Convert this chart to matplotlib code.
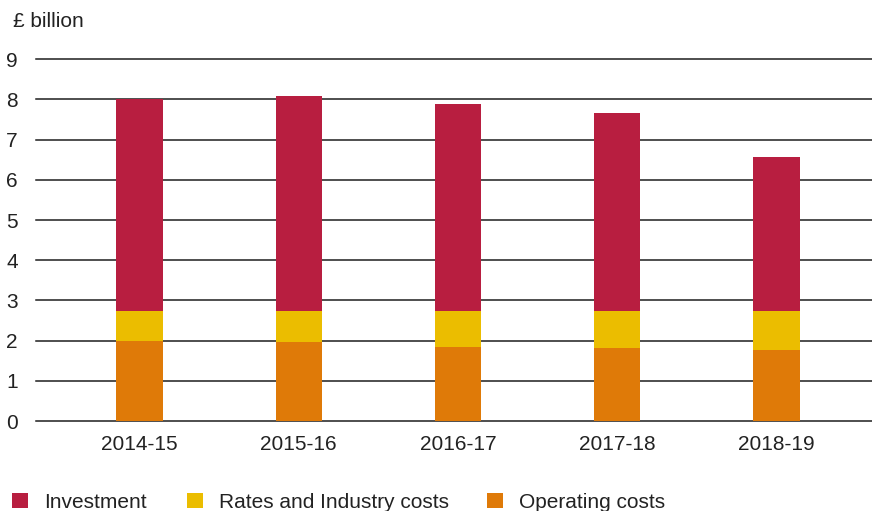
import matplotlib.pyplot as plt
from matplotlib.patches import Rectangle

plt.rcParams['font.family'] = ['Liberation Sans', 'DejaVu Sans']

# Spending by year, £ billion
years = ['2014-15', '2015-16', '2016-17', '2017-18', '2018-19']
operating = [1.99, 1.97, 1.84, 1.82, 1.77]
rates = [0.75, 0.77, 0.90, 0.92, 0.97]
investment = [5.26, 5.35, 5.15, 4.92, 3.83]

col_inv = '#B81E40'
col_rates = '#EBBD00'
col_op = '#DF7A08'
txt = '#222222'
fs = 15

fig = plt.figure(figsize=(8.72, 5.11), dpi=100)
ax = fig.add_axes([0.0413, 0.176, 0.9587, 0.708])

x = range(len(years))
w = 0.29
ax.bar(x, operating, w, color=col_op, zorder=3)
ax.bar(x, rates, w, bottom=operating, color=col_rates, zorder=3)
base = [o + r for o, r in zip(operating, rates)]
ax.bar(x, investment, w, bottom=base, color=col_inv, zorder=3)

ax.set_ylim(0, 9)
ax.set_xlim(-0.65, 4.6)
ax.set_yticks(range(10))
ax.set_xticks(list(x))
ax.set_xticklabels(years)
ax.yaxis.grid(True, color='#1e1e1e', linewidth=1.1, zorder=0)
for gl in ax.get_ygridlines():
    gl.set_clip_on(False)
ax.tick_params(length=0, labelsize=fs, colors=txt)
ax.tick_params(axis='x', pad=10)
ax.tick_params(axis='y', pad=13)
for s in ax.spines.values():
    s.set_visible(False)

fig.text(0.015, 0.957, '£ billion', fontsize=fs, color=txt, va='center')

# legend row along the bottom
items = [('Investment', col_inv, 12), ('Rates and Industry costs', col_rates, 187),
         ('Operating costs', col_op, 487)]
for label, c, px in items:
    x0 = px / 872
    fig.patches.append(Rectangle((x0, 0.006), 16 / 872, 15 / 511, transform=fig.transFigure,
                                 facecolor=c, edgecolor='none'))
    fig.text(x0 + 32 / 872, 0.017, label, fontsize=fs, color=txt, va='center')

fig.savefig('out.png', dpi=100)
